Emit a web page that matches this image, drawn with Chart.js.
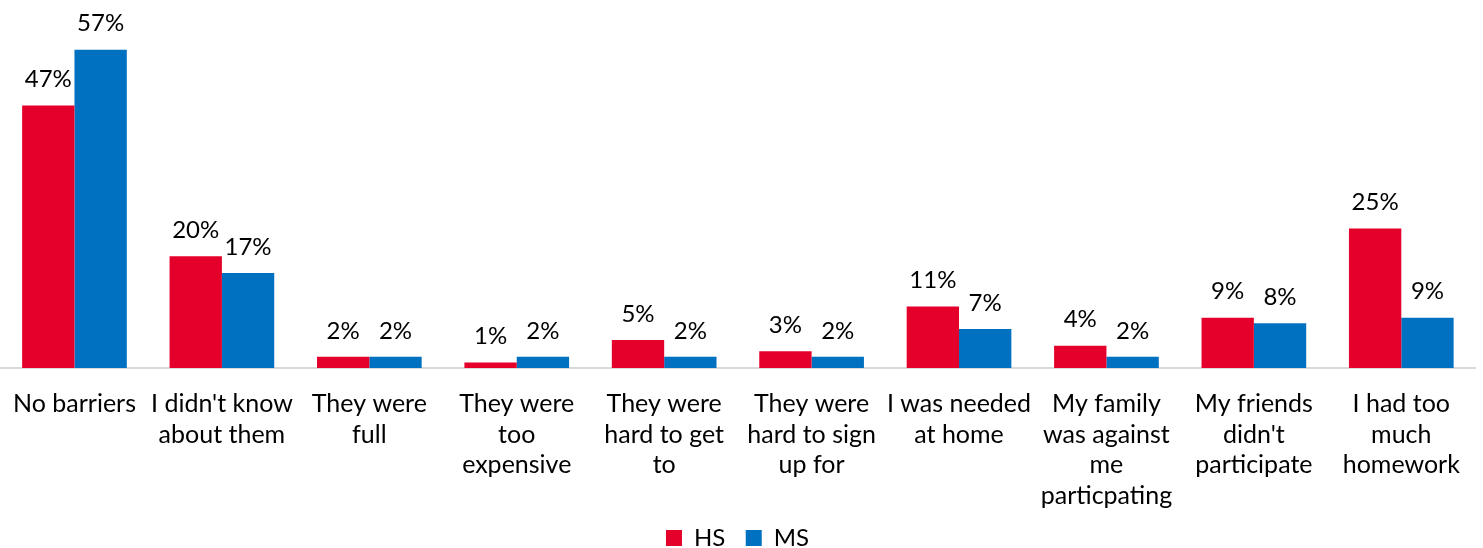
<!DOCTYPE html>
<html>
<head>
<meta charset="utf-8">
<script src="https://cdn.jsdelivr.net/npm/chart.js@4"></script>
<style>
  body { margin: 0; background: #fff; }
  .wrap { width: 1483px; height: 548px; position: relative; }
</style>
</head>
<body>
<div class="wrap"><canvas id="myChart"></canvas></div>
<script>
const labels = [
    'No barriers',
    ["I didn't know", 'about them'],
    ['They were', 'full'],
    ['They were', 'too', 'expensive'],
    ['They were', 'hard to get', 'to'],
    ['They were', 'hard to sign', 'up for'],
    ['I was needed', 'at home'],
    ['My family', 'was against', 'me', 'particpating'],
    ['My friends', "didn't", 'participate'],
    ['I had too', 'much', 'homework'],
];

const hs_values = [47, 20, 2, 1, 5, 3, 11, 4, 9, 25];
const ms_values = [57, 17, 2, 2, 2, 2, 7, 2, 8, 9];

const FONT = 'Lato, "Open Sans", sans-serif';

// draw the % labels above each bar
const bar_labels = {
    id: 'bar_labels',
    afterDatasetsDraw(chart) {
        const ctx = chart.ctx;
        ctx.save();
        ctx.font = '24px ' + FONT;
        ctx.fillStyle = '#000';
        ctx.textAlign = 'center';
        ctx.textBaseline = 'bottom';
        chart.data.datasets.forEach((ds, i) => {
            chart.getDatasetMeta(i).data.forEach((bar, j) => {
                ctx.fillText(ds.data[j] + '%', bar.x, bar.y - 14);
            });
        });
        ctx.restore();
    }
};

const data = {
    labels: labels,
    datasets: [{
        label: 'HS',
        backgroundColor: '#E4002B',
        data: hs_values,
    }, {
        label: 'MS',
        backgroundColor: '#0070C0',
        data: ms_values,
    }]
};

const config = {
    type: 'bar',
    data: data,
    options: {
        responsive: true,
        maintainAspectRatio: false,
        animation: false,
        categoryPercentage: 0.71,
        barPercentage: 1.0,
        layout: { padding: { top: 33, left: 0, right: 8, bottom: -12 } },
        scales: {
            x: {
                grid: { display: false },
                border: { color: '#d9d9d9', width: 2 },
                ticks: {
                    color: '#000',
                    font: { family: FONT, size: 25, lineHeight: 1.22 },
                    maxRotation: 0,
                    autoSkip: false,
                    padding: 13,
                },
            },
            y: {
                display: false,
                min: 0,
                max: 60,
            },
        },
        plugins: {
            legend: {
                position: 'bottom',
                labels: {
                    color: '#000',
                    font: { family: FONT, size: 24 },
                    boxWidth: 16,
                    boxHeight: 16,
                    padding: 2,
                    generateLabels(chart) {
                        const items = Chart.defaults.plugins.legend.labels.generateLabels(chart);
                        items[0].text = items[0].text + '   ';
                        return items;
                    },
                },
            },
            tooltip: { enabled: false },
        },
    },
    plugins: [bar_labels],
};

const myChart = new Chart(
    document.getElementById('myChart'),
    config
);
</script>
</body>
</html>
